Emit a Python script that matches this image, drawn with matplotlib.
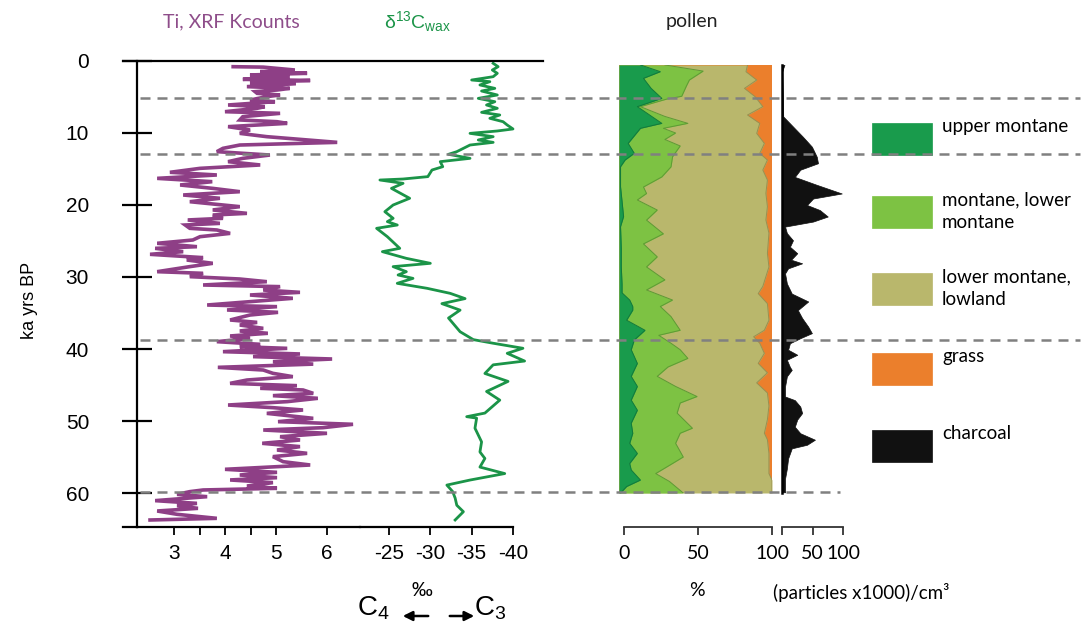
import matplotlib
matplotlib.use('Agg')
import matplotlib.pyplot as plt
from matplotlib.lines import Line2D
from matplotlib.patches import Rectangle, FancyArrowPatch

plt.rcParams['mathtext.fontset'] = 'custom'
plt.rcParams['mathtext.rm'] = 'Liberation Sans'
plt.rcParams['mathtext.it'] = 'Liberation Sans:italic'
plt.rcParams['mathtext.bf'] = 'Liberation Sans:bold'

LABEL_FONT = ['Lato', 'DejaVu Sans']
NUM_FONT = ['Liberation Sans', 'DejaVu Sans']

# ---------------- data ----------------
age_ticks = [0, 10, 20, 30, 40, 50, 60]
ti_ticks = [3, 3.5, 4, 4.5, 5, 6]
ti_ticklabels = ['3', '', '4', '', '5', '6']
d13c_ticks = [-25, -30, -35, -40]
pollen_ticks = [0, 50, 100]
charcoal_ticks = [0, 50, 100]
charcoal_ticklabels = ['', '50', '100']
boundary_ages = [5.14, 12.92, 38.75, 59.86]

ti_age = [0.79, 0.85, 1.25, 1.48, 1.71, 1.94, 2.18, 2.55, 2.70, 3.00,
          3.15, 3.56, 3.80, 4.03, 4.26, 4.49, 4.72, 4.95, 5.42, 5.65,
          6.11, 6.34, 6.57, 7.04, 7.27, 7.73, 8.19, 8.43, 8.66, 9.12,
          9.58, 10.05, 10.51, 10.97, 11.30, 11.67, 12.13, 12.59, 13.06, 13.52,
          13.98, 14.44, 14.91, 15.46, 15.83, 16.30, 16.76, 17.22, 17.69, 18.15,
          18.61, 19.07, 19.54, 20.23, 20.69, 21.16, 21.39, 21.85, 22.08, 22.55,
          22.78, 23.24, 23.47, 23.94, 24.40, 24.86, 25.32, 25.79, 26.02, 26.48,
          26.85, 27.31, 27.64, 28.10, 28.56, 29.26, 29.49, 29.95, 30.28, 30.65,
          31.11, 31.34, 31.81, 32.13, 32.50, 32.96, 33.43, 33.89, 34.12, 34.58,
          34.91, 35.28, 35.97, 36.30, 36.67, 37.13, 37.50, 37.82, 38.19, 38.52,
          38.98, 39.35, 39.68, 39.91, 40.37, 40.69, 41.06, 41.39, 41.76, 42.10,
          42.55, 42.92, 43.38, 43.84, 44.31, 44.77, 45.09, 45.46, 45.69, 46.16,
          46.48, 46.85, 47.31, 47.78, 48.15, 48.47, 48.94, 49.63, 50.09, 50.46,
          50.93, 51.25, 51.71, 52.18, 52.64, 53.10, 53.56, 54.03, 54.49, 54.95,
          55.65, 56.11, 56.71, 57.13, 57.50, 57.87, 58.19, 58.56, 59.03, 59.35,
          59.58, 59.81, 60.19, 60.51, 61.06, 61.44, 61.76, 62.13, 62.50, 62.96,
          63.52, 63.75]
ti_kcounts = [4.16, 4.75, 5.37, 4.69, 5.61, 4.49, 5.27, 4.35, 5.67, 4.49,
              5.39, 4.43, 5.27, 5.02, 4.59, 4.63, 5.08, 4.82, 4.49, 4.98,
              4.06, 4.78, 4.63, 4.00, 5.08, 4.35, 4.29, 5.02, 5.22, 4.06,
              4.49, 4.29, 4.82, 5.61, 6.20, 4.29, 3.96, 3.84, 4.88, 4.35,
              4.06, 4.69, 3.51, 2.92, 3.84, 2.67, 3.75, 3.12, 3.76, 4.29,
              3.18, 3.90, 3.31, 4.29, 3.76, 4.43, 3.76, 3.96, 3.27, 3.90,
              3.22, 3.31, 3.84, 4.10, 3.51, 3.37, 2.67, 3.45, 2.63, 3.18,
              2.53, 3.57, 3.25, 3.76, 3.31, 2.67, 3.57, 3.31, 4.29, 4.82,
              3.57, 5.08, 4.75, 5.47, 4.49, 5.33, 4.49, 3.65, 5.02, 4.04,
              5.04, 4.49, 4.10, 4.63, 4.29, 4.75, 4.29, 4.84, 4.10, 4.49,
              3.84, 4.69, 4.29, 5.22, 3.96, 5.47, 4.55, 6.10, 4.94, 5.73,
              3.86, 4.75, 4.94, 5.33, 4.43, 4.10, 5.41, 4.69, 5.53, 5.73,
              4.94, 5.82, 5.22, 4.06, 4.94, 5.53, 4.82, 5.73, 5.04, 6.51,
              5.92, 4.75, 6.00, 5.08, 5.47, 4.73, 5.47, 5.02, 5.61, 4.94,
              5.14, 5.67, 4.00, 5.02, 4.29, 5.02, 4.10, 4.94, 4.43, 5.02,
              3.57, 3.31, 3.06, 3.65, 2.63, 3.45, 3.06, 3.47, 2.67, 3.06,
              3.84, 2.53]

d13c_age = [0.32, 0.79, 1.25, 1.71, 2.18, 2.64, 2.87, 3.33, 3.80, 4.17,
            4.72, 5.19, 5.65, 6.11, 6.57, 7.13, 7.50, 7.96, 8.43, 8.89,
            9.44, 9.72, 10.05, 10.51, 10.97, 11.30, 11.67, 12.13, 12.59, 12.96,
            13.52, 13.98, 14.68, 15.14, 16.06, 16.39, 16.53, 16.99, 17.69, 19.07,
            20.00, 20.93, 21.85, 22.31, 22.78, 23.24, 24.40, 26.02, 26.48, 27.41,
            28.10, 28.56, 29.26, 29.72, 30.19, 30.88, 31.57, 32.27, 33.0, 33.7,
            34.6, 35.7, 37.6, 38.7, 39.2, 39.9, 40.6, 41.67, 42.2, 43.4,
            44.5, 45.9, 47.1, 48.9, 49.4, 49.6, 51.0, 52.9, 54.3, 55.2,
            56.4, 57.3, 58.2, 58.9, 59.8, 60.7, 61.7, 62.6, 63.75]
d13c_wax = [-37.6, -38.2, -37.5, -38.1, -37.6, -35.0, -37.2, -36.0, -37.8, -36.2,
            -38.1, -35.8, -37.8, -36.8, -38.1, -36.2, -38.4, -37.2, -38.8, -39.3,
            -40.0, -38.1, -34.8, -37.6, -35.8, -37.6, -34.8, -34.0, -33.2, -32.2,
            -34.8, -31.2, -31.5, -30.2, -29.7, -26.7, -23.9, -26.7, -25.3, -27.5,
            -25.5, -24.5, -25.5, -24.8, -26.0, -23.5, -24.8, -26.3, -24.2, -27.1,
            -30.0, -25.5, -27.1, -26.1, -27.9, -26.0, -29.6, -32.4, -34.2, -31.4,
            -33.6, -32.2, -33.6, -35.2, -37.6, -41.2, -39.3, -41.4, -37.6, -36.6,
            -39.4, -36.8, -38.4, -36.6, -34.4, -35.6, -35.4, -36.2, -36.0, -36.6,
            -36.0, -39.0, -34.8, -32.0, -32.7, -33.0, -33.2, -34.0, -33.0]

# pollen: cumulative percentages (left to right)
upper_montane_age = [0.55, 1.48, 2.41, 3.8, 5.19, 6.34, 7.5, 8.66, 9.35, 11.44,
                     12.82, 13.75, 14.68, 17.45, 19.5, 21.6, 23.0, 26.0, 28.6, 31.0,
                     32.2, 33.2, 34.1, 34.6, 36.0, 37.4, 38.75, 40.1, 42.0, 43.8,
                     45.2, 47.1, 48.5, 50.3, 51.7, 53.1, 54.5, 55.9, 56.8, 58.2,
                     59.1, 60.0]
upper_montane_cum = [14, 27, 16, 21, 28, 12, 20, 28, 14, 6,
                     10, 4, 1, 1, 2, 3, 1, 1.5, 1.5, 2,
                     2, 7, 9, 9, 5, 17, 10, 8, 12, 8,
                     12, 8, 12, 8, 9, 7, 12, 7, 8, 14,
                     5, 1]
montane_age = [0.55, 1.4, 2.64, 3.5, 4.9, 5.3, 6.34, 7.7, 8.66, 9.35,
               10.0, 10.9, 11.8, 13.3, 14.7, 16.1, 17.5, 18.4, 19.3, 20.7,
               22.1, 24.0, 25.4, 27.2, 28.6, 30.4, 31.8, 33.2, 34.1, 35.5,
               37.4, 38.1, 39.2, 40.1, 41.3, 42.5, 43.8, 45.2, 46.6, 47.5,
               48.9, 51.0, 51.7, 53.1, 55.0, 55.9, 57.3, 58.4, 60.0]
montane_cum = [30, 55, 46, 44, 41, 31, 14, 30, 45, 29,
               37, 30, 40, 35, 34, 28, 16, 18, 12, 25,
               18, 29, 16, 25, 18, 30, 18, 35, 27, 34,
               40, 26, 34, 40, 45, 32, 25, 37, 51, 40,
               38, 48, 40, 37, 42, 35, 24, 33, 42]
lowland_age = [0.55, 1.48, 2.64, 3.8, 4.96, 6.34, 7.5, 8.66, 10.05, 11.44,
               12.82, 13.75, 15.14, 16.53, 18.38, 20.23, 22.08, 23.9, 26.7, 28.6,
               31.3, 32.3, 33.7, 36.0, 37.4, 38.3, 39.2, 40.6, 42.0, 43.3,
               44.7, 46.1, 47.9, 49.8, 51.7, 52.6, 54.5, 57.3, 58.2, 60.0]
lowland_cum = [84, 83, 90, 82, 89, 94, 84, 92, 90, 95,
               92, 97, 94, 97, 96, 97, 96, 98, 97, 98,
               94, 91, 97, 98, 95, 88, 92, 95, 91, 97,
               90, 97, 98, 97, 95, 97, 98, 98, 100, 100]
grass_cum_total = 100

charcoal_age = [0.55, 1.0, 1.5, 7.7, 9.1, 10.5, 11.9, 13.3, 14.2, 15.1,
                16.1, 17.2, 18.4, 19.1, 20.0, 20.7, 21.6, 22.3, 23.0, 23.9,
                24.9, 25.8, 26.7, 27.6, 28.1, 28.8, 29.5, 30.9, 32.3, 33.4,
                34.6, 35.7, 36.9, 37.8, 38.5, 39.2, 40.1, 40.8, 41.5, 42.5,
                42.9, 43.8, 45.2, 46.6, 47.1, 48.0, 48.9, 49.8, 50.8, 51.7,
                52.6, 53.3, 53.8, 55.2, 56.6, 58.0, 59.9]
charcoal_val = [4, 2, 0.5, 2, 18, 34, 49, 57, 59, 30,
                21, 57, 98, 51, 41, 62, 75, 51, 5, 8,
                18, 13, 25, 15, 33, 10, 5, 8, 16, 43,
                26, 33, 43, 49, 30, 13, 10, 25, 8, 13,
                16, 8, 5, 5, 21, 30, 33, 25, 21, 30,
                54, 41, 16, 10, 8, 5, 5]

legend_labels = ['upper montane', 'montane, lower\nmontane', 'lower montane,\nlowland',
                 'grass', 'charcoal']

# ---------------- styles ----------------
C_TI = '#8E3F86'
C_TI_TXT = '#8E4D8A'
C_D13 = '#1B9448'
C_UM = '#199B4C'
C_MON = '#7DC243'
C_LOW = '#B9B76C'
C_GRASS = '#EB7F2C'
C_CHAR = '#111111'
C_DASH = '#808080'
legend_colors = [C_UM, C_MON, C_LOW, C_GRASS, C_CHAR]

W, H = 1086, 629
fig = plt.figure(figsize=(W / 100, H / 100), dpi=100)


def rect(x0, y0, x1, y1):
    return [x0 / W, 1 - y1 / H, (x1 - x0) / W, (y1 - y0) / H]


def fp(x, y):
    return (x / W, 1 - y / H)


TOP_PX, PX_PER_KA = 61.0, 7.2


def age_at(py):
    return (py - TOP_PX) / PX_PER_KA


AGE_MAX = age_at(527)

# ---------------- Ti panel ----------------
ax_ti = fig.add_axes(rect(137, 61, 360, 527))
ax_ti.patch.set_alpha(0)
ax_ti.set_xlim(3 - 37 / 51, 3 + 186 / 51)
ax_ti.set_ylim(AGE_MAX, 0)
ax_ti.plot(ti_kcounts, ti_age, color=C_TI, lw=2.6, solid_joinstyle='miter')
for s in ['top', 'right']:
    ax_ti.spines[s].set_visible(False)
ax_ti.spines['left'].set_linewidth(1.6)
ax_ti.spines['bottom'].set_linewidth(1.6)
ax_ti.set_yticks(age_ticks)
ax_ti.set_yticklabels([str(a) for a in age_ticks])
ax_ti.tick_params(axis='y', direction='inout', length=21, width=1.6, pad=24,
                  labelsize=15, labelfontfamily=NUM_FONT)
ax_ti.set_xticks(ti_ticks)
ax_ti.set_xticklabels(ti_ticklabels)
ax_ti.tick_params(axis='x', direction='out', length=6, width=1.3, pad=6,
                  labelsize=15, labelfontfamily=NUM_FONT)

# ---------------- d13C panel ----------------
px_per_permil = 124 / 15.0
ax_d = fig.add_axes(rect(360, 61, 543, 527))
ax_d.patch.set_alpha(0)
ax_d.set_xlim(-25 + 29 / px_per_permil, -40 - 30 / px_per_permil)
ax_d.set_ylim(AGE_MAX, 0)
ax_d.plot(d13c_wax, d13c_age, color=C_D13, lw=2.0)
for s in ['top', 'right', 'left']:
    ax_d.spines[s].set_visible(False)
ax_d.spines['bottom'].set_linewidth(1.6)
ax_d.spines['bottom'].set_bounds(-25 + 29 / px_per_permil, -40)
ax_d.set_yticks([])
ax_d.set_xticks(d13c_ticks)
ax_d.set_xticklabels([str(t) for t in d13c_ticks])
ax_d.tick_params(axis='x', direction='out', length=6, width=1.3, pad=6,
                 labelsize=15, labelfontfamily=NUM_FONT)

# frame lines (top line at age 0 and small left extension of bottom line)
fig.add_artist(Line2D([fp(123, 61)[0], fp(543, 61)[0]], [fp(0, 61)[1]] * 2,
                      transform=fig.transFigure, color='black', lw=1.6))
fig.add_artist(Line2D([fp(123, 527)[0], fp(137, 527)[0]], [fp(0, 527)[1]] * 2,
                      transform=fig.transFigure, color='black', lw=1.6))

# ---------------- pollen panel ----------------
P_TOP, P_BOT = 65, 493
ax_p = fig.add_axes(rect(619, P_TOP, 772, P_BOT))
ax_p.set_xlim(0, 100)
ax_p.set_ylim(age_at(P_BOT), age_at(P_TOP))
ax_p.axis('off')
ax_p.fill_betweenx(lowland_age, 0, [grass_cum_total] * len(lowland_age),
                   color=C_GRASS, lw=0)
ax_p.fill_betweenx(lowland_age, 0, lowland_cum, color=C_LOW, lw=0)
ax_p.plot(lowland_cum, lowland_age, color='#9A8F50', lw=0.7)
ax_p.fill_betweenx(montane_age, 0, montane_cum, color=C_MON, lw=0)
ax_p.plot(montane_cum, montane_age, color='#5E9A35', lw=0.7)
ax_p.fill_betweenx(upper_montane_age, 0, upper_montane_cum, color=C_UM, lw=0)
ax_p.plot(upper_montane_cum, upper_montane_age, color='#137A3B', lw=0.7)

ax_ps = fig.add_axes(rect(624, 515, 772, 527))
ax_ps.patch.set_alpha(0)
ax_ps.set_xlim(0, 100)
for s in ['top', 'right', 'left']:
    ax_ps.spines[s].set_visible(False)
ax_ps.spines['bottom'].set_linewidth(1.3)
ax_ps.spines['bottom'].set_color('#333333')
ax_ps.set_yticks([])
ax_ps.set_xticks(pollen_ticks)
ax_ps.set_xticklabels([str(t) for t in pollen_ticks])
ax_ps.tick_params(axis='x', direction='out', length=6, width=1.3, color='#333333',
                  pad=7, labelsize=14, labelfontfamily=LABEL_FONT)

# ---------------- charcoal panel ----------------
ax_c = fig.add_axes(rect(782, P_TOP, 843, P_BOT))
ax_c.patch.set_alpha(0)
ax_c.set_xlim(0, 100)
ax_c.set_ylim(age_at(P_BOT), age_at(P_TOP))
ax_c.fill_betweenx(charcoal_age, 0, charcoal_val, color=C_CHAR, lw=0.5)
for s in ['top', 'right', 'bottom']:
    ax_c.spines[s].set_visible(False)
ax_c.spines['left'].set_linewidth(1.8)
ax_c.set_xticks([])
ax_c.set_yticks([])

ax_cs = fig.add_axes(rect(782, 515, 843, 527))
ax_cs.patch.set_alpha(0)
ax_cs.set_xlim(0, 100)
for s in ['top', 'right', 'left']:
    ax_cs.spines[s].set_visible(False)
ax_cs.spines['bottom'].set_linewidth(1.3)
ax_cs.spines['bottom'].set_color('#333333')
ax_cs.set_yticks([])
ax_cs.set_xticks(charcoal_ticks)
ax_cs.set_xticklabels(charcoal_ticklabels)
ax_cs.tick_params(axis='x', direction='out', length=6, width=1.3, color='#333333',
                  pad=7, labelsize=14, labelfontfamily=LABEL_FONT)

# ---------------- dashed boundaries ----------------
ax_dash = fig.add_axes(rect(137, 61, 1086, 527))
ax_dash.set_zorder(10)
ax_dash.patch.set_alpha(0)
ax_dash.axis('off')
ax_dash.set_xlim(0, 1)
ax_dash.set_ylim(AGE_MAX, 0)
dash_ends = [1080, 1080, 1080, 840]
for a, xe in zip(boundary_ages, dash_ends):
    ax_dash.axhline(a, xmin=3 / 949, xmax=(xe - 137) / 949, color=C_DASH, lw=1.8,
                    linestyle=(0, (4.0, 2.8)))

# ---------------- titles & labels ----------------
fig.text(*fp(231, 22), 'Ti, XRF Kcounts', color=C_TI_TXT, ha='center', va='center',
         fontsize=14, family=LABEL_FONT)
fig.text(*fp(418, 22), r'δ$^{13}$C$_{\mathrm{wax}}$', color=C_D13, ha='center',
         va='center', fontsize=14, family=NUM_FONT)
fig.text(*fp(692, 22), 'pollen', color='#222222', ha='center', va='center',
         fontsize=14, family=LABEL_FONT)
fig.text(*fp(30, 300), 'ka yrs BP', rotation=90, ha='center', va='center',
         fontsize=13, family=NUM_FONT)

fig.text(*fp(422, 590), '‰', ha='center', va='center', fontsize=15, family=NUM_FONT)
fig.text(*fp(357, 608), r'C$_4$', ha='left', va='center', fontsize=20, family=NUM_FONT)
fig.text(*fp(474, 608), r'C$_3$', ha='left', va='center', fontsize=20, family=NUM_FONT)
fig.add_artist(FancyArrowPatch(fp(431, 616), fp(400, 616), transform=fig.transFigure,
                               arrowstyle='-|>', mutation_scale=14, lw=1.8, color='black'))
fig.add_artist(FancyArrowPatch(fp(447, 616), fp(477, 616), transform=fig.transFigure,
                               arrowstyle='-|>', mutation_scale=14, lw=1.8, color='black'))
fig.text(*fp(697, 591), '%', ha='center', va='center', fontsize=14, family=LABEL_FONT)
fig.text(*fp(861, 592), '(particles x1000)/cm³', ha='center', va='center',
         fontsize=13.5, family=LABEL_FONT)

# ---------------- legend ----------------
leg_tops = [123, 196, 273, 353, 430]
for top, lab, col in zip(leg_tops, legend_labels, legend_colors):
    x0, y0 = fp(872, top + 32)
    fig.add_artist(Rectangle((x0, y0), 60 / W, 32 / H, transform=fig.transFigure,
                             facecolor=col, edgecolor=col, lw=0.5))
    fig.text(*fp(942, top - 5), lab, ha='left', va='top', fontsize=13.5,
             family=LABEL_FONT, linespacing=1.45)

fig.savefig('out.png', dpi=100)
